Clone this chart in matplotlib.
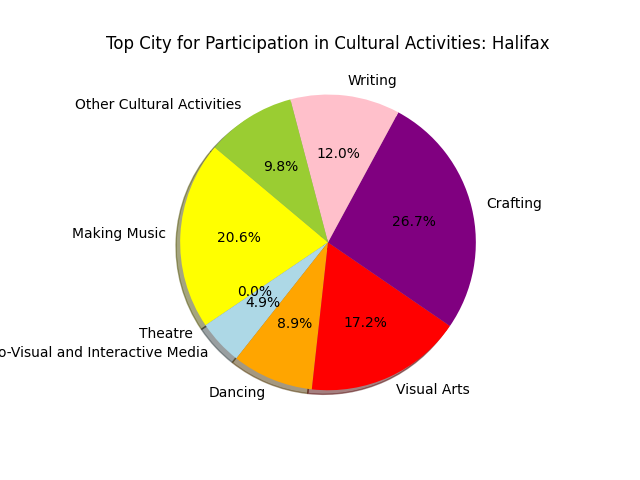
import matplotlib
matplotlib.use("Agg")
import matplotlib.pyplot as plt

labels = ["Making Music", "Theatre", "Audio-Visual and Interactive Media",
          "Dancing", "Visual Arts", "Crafting", "Writing",
          "Other Cultural Activities"]
shares = [20.6, 0.0, 4.9, 8.9, 17.2, 26.7, 12.0, 9.8]
colors = ["yellow", "lightcoral", "lightblue", "orange", "red", "purple",
          "pink", "yellowgreen"]

fig, ax = plt.subplots(figsize=(6.4, 4.8), dpi=100)
ax.pie(shares, labels=labels, colors=colors, autopct="%1.1f%%",
       shadow=True, startangle=140)
ax.set_title("Top City for Participation in Cultural Activities: Halifax")
fig.savefig("out.png")
